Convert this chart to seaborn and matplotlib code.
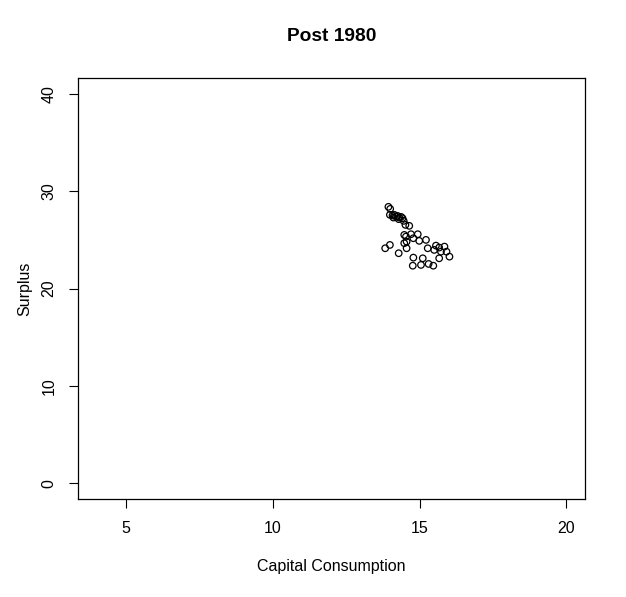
import numpy as np
import pandas as pd
import matplotlib
matplotlib.use("Agg")
import matplotlib.pyplot as plt
import seaborn as sns

capital_consumption = [
    13.94, 14.00, 13.99, 14.08, 14.14, 14.20, 14.25, 14.31, 14.37, 14.42,
    14.11, 14.29, 14.46, 14.52, 14.65, 14.48, 14.54, 14.71, 14.79, 14.94,
    14.56, 14.99, 15.22, 14.48, 13.99, 13.83, 14.56, 15.28, 15.56, 15.67,
    15.85, 15.50, 15.73, 15.92, 16.02, 14.29, 14.79, 15.11, 14.77, 15.05,
    15.31, 15.47, 15.67,
]
surplus = [
    28.38, 28.17, 27.56, 27.49, 27.56, 27.38, 27.45, 27.28, 27.35, 27.22,
    27.28, 27.12, 26.94, 26.53, 26.43, 25.50, 25.33, 25.57, 25.16, 25.57,
    24.81, 24.89, 24.99, 24.65, 24.47, 24.13, 24.13, 24.13, 24.40, 24.20,
    24.30, 23.96, 23.78, 23.78, 23.27, 23.62, 23.17, 23.10, 22.34, 22.42,
    22.52, 22.34, 23.10,
]
x_ticks = [5, 10, 15, 20]
y_ticks = [0, 10, 20, 30, 40]

df = pd.DataFrame({"Capital Consumption": capital_consumption, "Surplus": surplus})

sns.set_theme(style="white")
plt.rcParams["font.family"] = ["Liberation Sans", "DejaVu Sans"]
# base-R look: plain black text
plt.rcParams["text.color"] = "black"
plt.rcParams["axes.labelcolor"] = "black"
plt.rcParams["xtick.color"] = "black"
plt.rcParams["ytick.color"] = "black"

fig = plt.figure(figsize=(6.26, 5.97), dpi=100)
ax = fig.add_axes([0.1246, 0.1642, 0.8099, 0.7051])

sns.scatterplot(data=df, x="Capital Consumption", y="Surplus", ax=ax,
                marker="o", s=22, facecolor="none", edgecolor="black", linewidth=0.9)

# R-style limits: 4% extension around (4, 20) and (0, 40)
ax.set_xlim(3.36, 20.64)
ax.set_ylim(-1.6, 41.6)
ax.set_xticks(x_ticks)
ax.set_yticks(y_ticks)
ax.set_xticklabels([str(t) for t in x_ticks], fontsize=11.5)
ax.set_yticklabels([str(t) for t in y_ticks], fontsize=11.5, rotation=90, va="center")
ax.tick_params(axis="x", direction="out", length=6.5, width=0.8, color="black", bottom=True, pad=9.5)
ax.tick_params(axis="y", direction="out", length=6.5, width=0.8, color="black", left=True, pad=9)

for sp in ax.spines.values():
    sp.set_color("black")
    sp.set_linewidth(0.9)

ax.set_xlabel("Capital Consumption", fontsize=11.5)
ax.set_ylabel("Surplus", fontsize=11.5)
ax.xaxis.set_label_coords(0.5, -0.1615)
ax.xaxis.label.set_va("center")
ax.yaxis.set_label_coords(-0.105, 0.5)
ax.yaxis.label.set_va("center")
ax.set_title("Post 1980", fontsize=13.8, fontweight="bold", y=1.0998, va="center", pad=0)

fig.savefig("out.png", dpi=100)
